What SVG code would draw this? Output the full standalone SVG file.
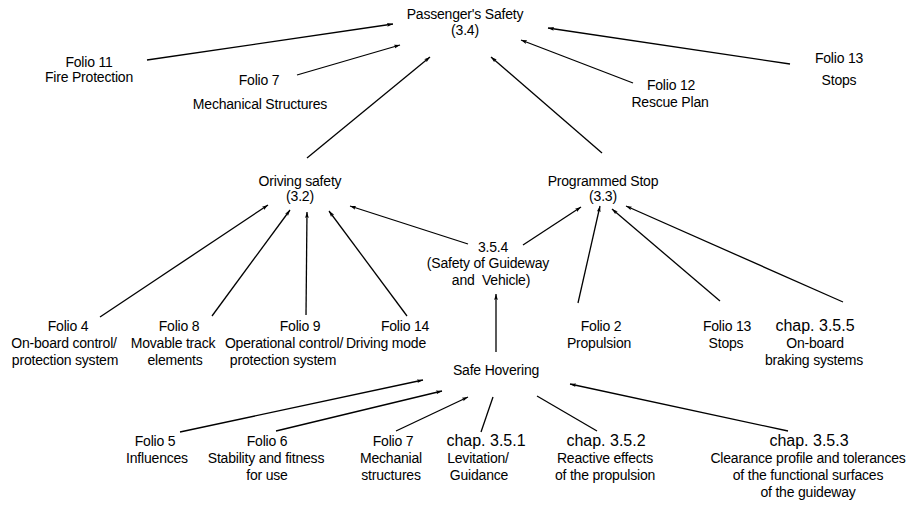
<svg xmlns="http://www.w3.org/2000/svg" width="915" height="509" viewBox="0 0 915 509">
<defs>
<marker id="ah" markerUnits="userSpaceOnUse" markerWidth="7" markerHeight="5" refX="6" refY="2.5" orient="auto">
<path d="M0,0.6 L6,2.5 L0,4.4 L1.2,2.5 Z" fill="#000"/>
</marker>
<style>
text{font-family:"Liberation Sans",Arial,sans-serif;font-size:14px;letter-spacing:-0.2px;fill:#000;text-anchor:middle}
.ch{font-size:16px;letter-spacing:0}
.c line{stroke:#000;stroke-width:1.3;fill:none}
.a{marker-end:url(#ah)}
</style>
</defs>
<rect width="915" height="509" fill="#fff"/>
<g class="c" id="connectors">
<line class="a" x1="147" y1="60" x2="393" y2="24"/>
<line class="a" x1="297" y1="75" x2="400" y2="45"/>
<line class="a" x1="307" y1="158" x2="430" y2="57"/>
<line class="a" x1="602" y1="153" x2="491" y2="57"/>
<line class="a" x1="633" y1="83" x2="521" y2="40"/>
<line class="a" x1="790" y1="64" x2="548" y2="28"/>
<line class="a" x1="100" y1="317" x2="268" y2="205"/>
<line class="a" x1="212" y1="316" x2="290" y2="210"/>
<line class="a" x1="306" y1="315" x2="307" y2="212"/>
<line class="a" x1="407" y1="316" x2="329" y2="211"/>
<line class="a" x1="468" y1="244" x2="350" y2="206"/>
<line class="a" x1="523" y1="245" x2="581" y2="207"/>
<line class="a" x1="496" y1="352" x2="496" y2="294"/>
<line class="a" x1="578" y1="303" x2="600" y2="206"/>
<line class="a" x1="720" y1="301" x2="612" y2="209"/>
<line class="a" x1="843" y1="302" x2="626" y2="206"/>
<line class="a" x1="180" y1="432" x2="423" y2="380"/>
<line class="a" x1="276" y1="431" x2="442" y2="391"/>
<line class="a" x1="396" y1="431" x2="468" y2="397"/>
<line x1="481" y1="432" x2="493" y2="397"/>
<line x1="597" y1="431" x2="537" y2="396"/>
<line class="a" x1="788" y1="431" x2="570" y2="384"/>
</g>
<g id="passenger"><text x="465" y="19">Passenger's Safety</text><text x="465" y="35">(3.4)</text></g>
<g id="folio11"><text x="89" y="67">Folio 11</text><text x="89" y="82">Fire Protection</text></g>
<g id="folio7top"><text x="259" y="85">Folio 7</text><text x="260" y="109">Mechanical Structures</text></g>
<g id="folio12"><text x="671" y="90">Folio 12</text><text x="670" y="107">Rescue Plan</text></g>
<g id="folio13top"><text x="839" y="63">Folio 13</text><text x="839" y="85">Stops</text></g>
<g id="driving"><text x="300" y="186">Oriving safety</text><text x="300" y="201">(3.2)</text></g>
<g id="programmed"><text x="603" y="186">Programmed Stop</text><text x="603" y="201">(3.3)</text></g>
<g id="n354"><text x="493" y="252">3.5.4</text><text x="488" y="268">(Safety of Guideway</text><text x="491" y="285" xml:space="preserve">and  Vehicle)</text></g>
<g id="folio4"><text x="68" y="331">Folio 4</text><text x="64" y="348">On-board control/</text><text x="65" y="365">protection system</text></g>
<g id="folio8"><text x="179" y="331">Folio 8</text><text x="173" y="348">Movable track</text><text x="175" y="365">elements</text></g>
<g id="folio9"><text x="300" y="331">Folio 9</text><text x="284" y="348">Operational control/</text><text x="283" y="365">protection system</text></g>
<g id="folio14"><text x="405" y="331">Folio 14</text><text x="386" y="348">Driving mode</text></g>
<g id="folio2"><text x="601" y="331">Folio 2</text><text x="599" y="348">Propulsion</text></g>
<g id="folio13mid"><text x="727" y="331">Folio 13</text><text x="726" y="348">Stops</text></g>
<g id="chap355"><text class="ch" x="815" y="331">chap. 3.5.5</text><text x="815" y="348">On-board</text><text x="814" y="365">braking systems</text></g>
<g id="hovering"><text x="496" y="375">Safe Hovering</text></g>
<g id="folio5"><text x="155" y="446">Folio 5</text><text x="157" y="463">Influences</text></g>
<g id="folio6"><text x="267" y="446">Folio 6</text><text x="266" y="463">Stability and fitness</text><text x="267" y="480">for use</text></g>
<g id="folio7bot"><text x="393" y="446">Folio 7</text><text x="391" y="463">Mechanial</text><text x="391" y="480">structures</text></g>
<g id="chap351"><text class="ch" x="486" y="446">chap. 3.5.1</text><text x="478" y="463">Levitation/</text><text x="479" y="480">Guidance</text></g>
<g id="chap352"><text class="ch" x="606" y="446">chap. 3.5.2</text><text x="605" y="463">Reactive effects</text><text x="605" y="480">of the propulsion</text></g>
<g id="chap353"><text class="ch" x="809" y="446">chap. 3.5.3</text><text x="808" y="463">Clearance profile and tolerances</text><text x="808" y="480">of the functional surfaces</text><text x="808" y="497">of the guideway</text></g>
</svg>
